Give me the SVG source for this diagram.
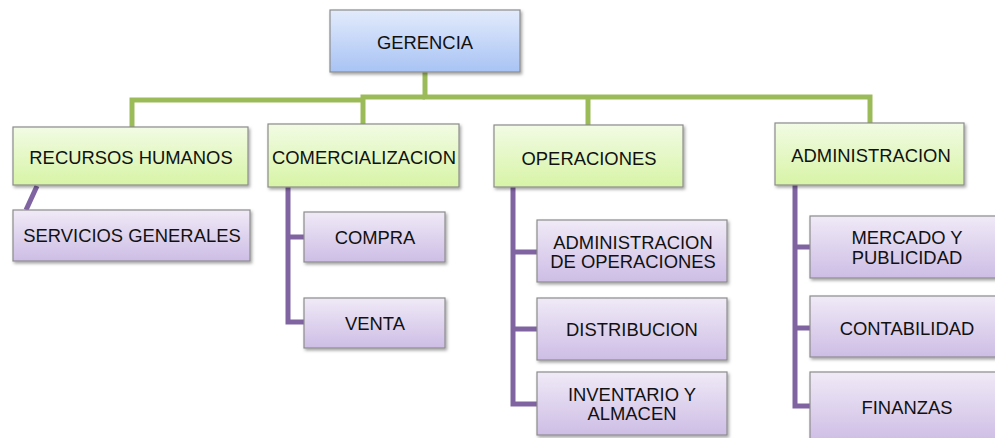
<svg xmlns="http://www.w3.org/2000/svg" width="995" height="438" viewBox="0 0 995 438">
<defs>
<linearGradient id="gBlue" x1="0" y1="0" x2="0" y2="1"><stop offset="0" stop-color="#e3ebfc"/><stop offset="1" stop-color="#a8c3f4"/></linearGradient>
<linearGradient id="gGreen" x1="0" y1="0" x2="0" y2="1"><stop offset="0" stop-color="#f2fbe4"/><stop offset="1" stop-color="#d7f4a6"/></linearGradient>
<linearGradient id="gPurple" x1="0" y1="0" x2="0" y2="1"><stop offset="0" stop-color="#f0eaf7"/><stop offset="1" stop-color="#cdbde5"/></linearGradient>
<filter id="sh" x="-10%" y="-10%" width="130%" height="140%"><feDropShadow dx="1.5" dy="2" stdDeviation="1.5" flood-color="#000" flood-opacity="0.35"/></filter>
</defs>
<style>
.box{stroke:#8c8c8c;stroke-width:1.2;filter:url(#sh)}
.blue{fill:url(#gBlue)}
.green{fill:url(#gGreen)}
.purple{fill:url(#gPurple)}
text{font-family:"Liberation Sans",Arial,sans-serif;font-size:18.4px;fill:#111;text-anchor:middle}
.gl{fill:none;stroke:#9bbb59;stroke-width:5}
.pl{fill:none;stroke:#8064a2;stroke-width:5}
</style>
<rect width="995" height="438" fill="#fff"/>
<g id="connectors">
<path class="gl" d="M425,72 V97 H870 V124"/>
<path class="gl" d="M425,97 H363 V125"/>
<path class="gl" d="M363,100 H132 V127"/>
<path class="gl" d="M588,97 V126"/>
<path class="pl" d="M37,186 L26,210"/>
<path class="pl" d="M288,187 V322 H305 M288,237 H305"/>
<path class="pl" d="M513,187 V404 H538 M513,252 H538 M513,329 H538"/>
<path class="pl" d="M795,185 V406 H811 M795,247 H811 M795,328 H811"/>
</g>
<g id="gerencia"><rect class="box blue" x="330" y="10" width="190" height="62"/><text x="425" y="48.5">GERENCIA</text></g>
<g id="rrhh"><rect class="box green" x="13" y="127" width="235" height="58"/><text x="131" y="163.5">RECURSOS HUMANOS</text></g>
<g id="servicios"><rect class="box purple" x="13" y="210" width="237" height="51"/><text x="132" y="241.5">SERVICIOS GENERALES</text></g>
<g id="comercializacion"><rect class="box green" x="268" y="124" width="191" height="63"/><text x="364" y="163.5">COMERCIALIZACION</text></g>
<g id="compra"><rect class="box purple" x="304" y="212" width="141" height="50"/><text x="375" y="243.5">COMPRA</text></g>
<g id="venta"><rect class="box purple" x="304" y="298" width="141" height="50"/><text x="375" y="329.5">VENTA</text></g>
<g id="operaciones"><rect class="box green" x="494" y="125" width="189" height="62"/><text x="589" y="164.5">OPERACIONES</text></g>
<g id="admin-ops"><rect class="box purple" x="537" y="220" width="190" height="62"/><text x="633" y="248.5">ADMINISTRACION</text><text x="633" y="268">DE OPERACIONES</text></g>
<g id="distribucion"><rect class="box purple" x="537" y="298" width="190" height="62"/><text x="632" y="335.5">DISTRIBUCION</text></g>
<g id="inventario"><rect class="box purple" x="537" y="372" width="190" height="63"/><text x="632" y="400.5">INVENTARIO Y</text><text x="632" y="420">ALMACEN</text></g>
<g id="administracion"><rect class="box green" x="775" y="123" width="189" height="62"/><text x="871" y="161.5">ADMINISTRACION</text></g>
<g id="mercado"><rect class="box purple" x="810" y="216" width="194" height="62"/><text x="907" y="244">MERCADO Y</text><text x="907" y="263.5">PUBLICIDAD</text></g>
<g id="contabilidad"><rect class="box purple" x="810" y="296" width="194" height="61"/><text x="907" y="334.5">CONTABILIDAD</text></g>
<g id="finanzas"><rect class="box purple" x="810" y="372" width="194" height="70"/><text x="907" y="413.5">FINANZAS</text></g>
</svg>
